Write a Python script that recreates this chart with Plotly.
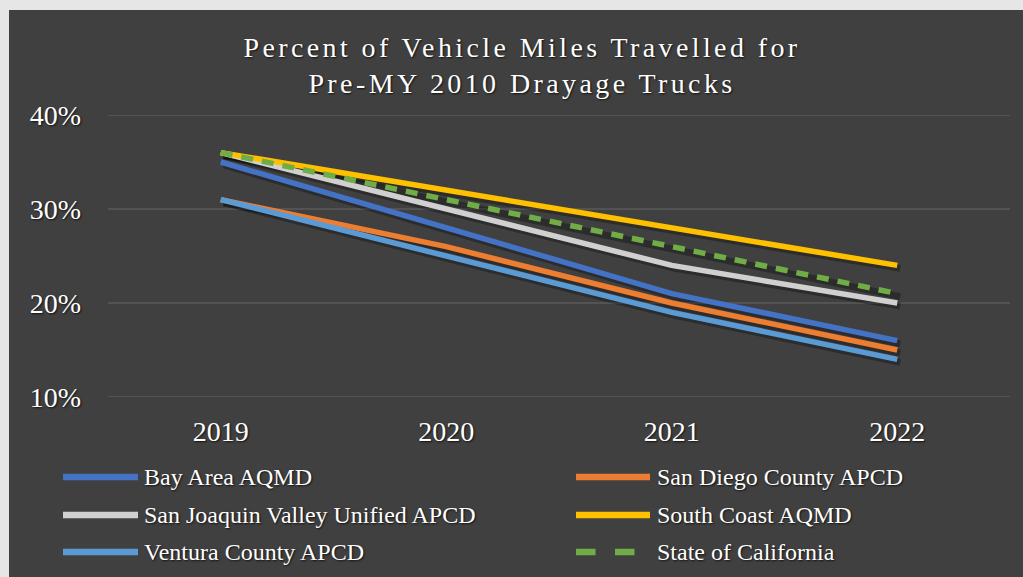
import plotly.graph_objects as go

years = ['2019', '2020', '2021', '2022']

bay_area = [35, 28, 21, 16]
san_diego = [31, 26, 20, 15]
san_joaquin = [36, 30, 24, 20]
south_coast = [36, 32, 28, 24]
ventura = [31, 25, 19, 14]
state_ca = [36, 31, 26, 21]

series_names = ['Bay Area AQMD', 'San Diego County APCD', 'San Joaquin Valley Unified APCD',
                'South Coast AQMD', 'Ventura County APCD', 'State of California']
series_values = [bay_area, san_diego, san_joaquin, south_coast, ventura, state_ca]
series_colors = ['#4472C4', '#ED7D31', '#D0D0D0', '#FFC000', '#5B9BD5', '#70AD47']
series_dash = ['solid', 'solid', 'solid', 'solid', 'solid', '12px,9px']

y_ticks = [10, 20, 30, 40]

# plot area in pixels
W, H = 1023, 577
L, R, T, B = 108, 13, 115, 180
PW, PH = W - L - R, H - T - B
FONT = 'Liberation Serif, Times New Roman, serif'
SHADOW = '1px 1px 2px rgba(0,0,0,0.75)'


def px_x(px):
    return (px - L) / PW


def px_y(py):
    return (H - B - py) / PH


fig = go.Figure()

# soft drop shadows on a shifted copy of the axes
for vals in series_values:
    fig.add_trace(go.Scatter(x=years, y=vals, mode='lines', xaxis='x', yaxis='y',
                             line=dict(color='rgba(0,0,0,0.3)', width=7),
                             showlegend=False, hoverinfo='skip'))

for name, vals, col, dash in zip(series_names, series_values, series_colors, series_dash):
    fig.add_trace(go.Scatter(x=years, y=vals, name=name, mode='lines', xaxis='x2', yaxis='y2',
                             line=dict(color=col, width=5.5, dash=dash),
                             showlegend=False))

# manual legend (two columns, long line symbols)
rows = [477, 515, 552]
cols = [(63, 138, 142), (576, 650, 655)]
for i, (name, col, dash) in enumerate(zip(series_names, series_colors, series_dash)):
    sx0, sx1, tx = cols[i % 2]
    ry = rows[i // 2]
    fig.add_shape(type='line', xref='paper', yref='paper',
                  x0=px_x(sx0), x1=px_x(sx1), y0=px_y(ry), y1=px_y(ry),
                  line=dict(color=col, width=6.5, dash='dash' if dash != 'solid' else 'solid'))
    fig.add_annotation(text=name, xref='paper', yref='paper', x=px_x(tx), y=px_y(ry),
                       xanchor='left', yanchor='middle', showarrow=False,
                       font=dict(family=FONT, size=24, color='#ffffff', shadow=SHADOW))

# dark chart area with a light frame at the top/left
fig.add_shape(type='rect', xref='paper', yref='paper', layer='below',
              x0=px_x(9), x1=px_x(W + 5), y0=px_y(H + 5), y1=px_y(10),
              fillcolor='#404040', line=dict(width=0))

# gridlines as shapes so the ones on the range edges are kept
for v in y_ticks:
    fig.add_shape(type='line', xref='paper', yref='y2', layer='below',
                  x0=0, x1=1, y0=v, y1=v, line=dict(color='#5a5a5a', width=1.5))

dx = 3 / (PW / 4)
dy = 3 * 30 / PH
fig.update_layout(
    width=W, height=H,
    margin=dict(l=L, r=R, t=T, b=B),
    paper_bgcolor='#e6e6e6',
    plot_bgcolor='rgba(0,0,0,0)',
    showlegend=False,
    title=dict(text='Percent of Vehicle Miles Travelled for<br>Pre-MY 2010 Drayage Trucks',
               x=522 / W, xanchor='center', xref='container',
               y=1 - 57 / H, yanchor='top', yref='container',
               font=dict(family=FONT, size=28, color='#ffffff', shadow=SHADOW)),
    xaxis=dict(type='category', range=[-0.5 - dx, 3.5 - dx], visible=False),
    yaxis=dict(range=[10 + dy, 40 + dy], visible=False),
    xaxis2=dict(type='category', overlaying='x', range=[-0.5, 3.5], showgrid=False,
                showline=False, zeroline=False, ticks='', ticklabelstandoff=15,
                tickfont=dict(family=FONT, size=28, color='#ffffff', shadow=SHADOW)),
    yaxis2=dict(overlaying='y', range=[10, 40], tickvals=y_ticks,
                ticktext=[f'{v}%' for v in y_ticks], showgrid=False,
                zeroline=False, showline=False, ticks='', ticklabelstandoff=26,
                tickfont=dict(family=FONT, size=28, color='#ffffff', shadow=SHADOW)),
)

# page without body margin; title letter-spaced like the original
js = """
document.body.style.margin = '0';
document.body.style.background = '#e6e6e6';
document.querySelectorAll('.gtitle').forEach(function (t) { t.style.letterSpacing = '3.4px'; });
"""
fig.write_html('out.html', post_script=js, config={'displayModeBar': False})
